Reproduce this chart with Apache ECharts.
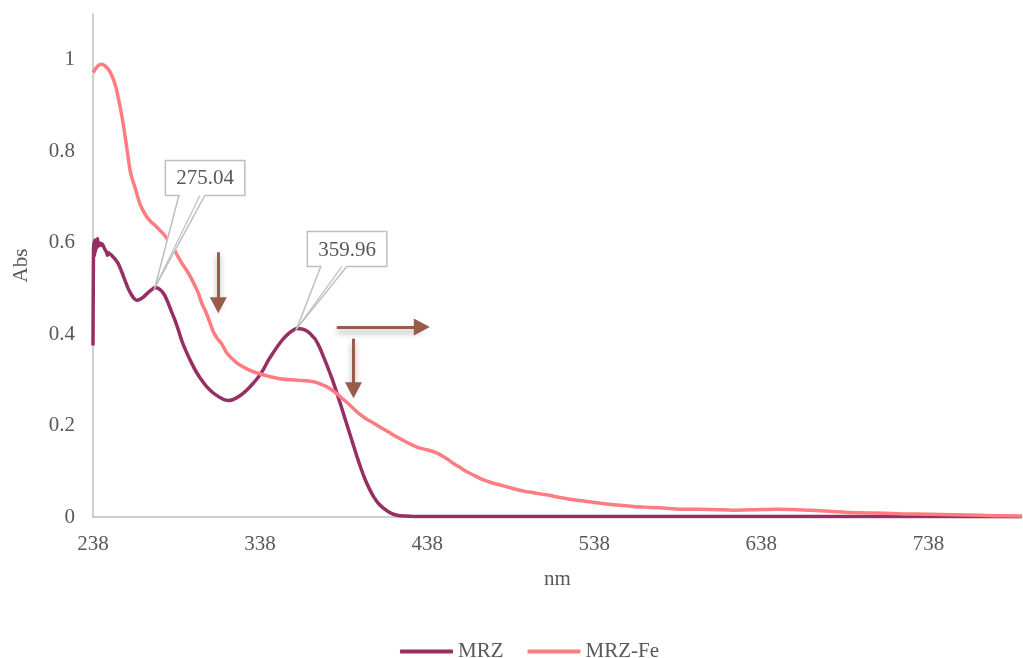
<!DOCTYPE html>
<html>
<head>
<meta charset="utf-8">
<style>
  html, body { margin: 0; padding: 0; background: #ffffff; }
  #chart { width: 1023px; height: 658px; }
</style>
<script src="https://cdn.jsdelivr.net/npm/echarts@6/dist/echarts.min.js"></script>
</head>
<body>
<div id="chart"></div>
<script>
// UV-Vis absorption spectra: wavelength (nm) vs absorbance
const seriesNames = ['MRZ', 'MRZ-Fe'];

const mrzSpectrum = [
  [238, 0.375], [238.3, 0.585], [238.6, 0.602], [238.9, 0.572], [239.2, 0.606],
  [239.5, 0.58], [239.9, 0.603], [240.3, 0.588], [240.7, 0.609], [241.2, 0.592],
  [241.8, 0.6], [242.5, 0.594], [243.2, 0.598], [244, 0.594], [245, 0.586],
  [246, 0.58], [246.6, 0.572], [247.2, 0.578], [248.2, 0.575], [249.2, 0.572],
  [251, 0.565], [253.1, 0.554], [255, 0.538], [257.2, 0.517], [259, 0.5],
  [261.2, 0.485], [262.8, 0.477], [264.2, 0.474], [266, 0.476], [268.1, 0.481],
  [270.5, 0.489], [273.1, 0.497], [275.04, 0.502], [277, 0.5], [279.1, 0.494],
  [281, 0.484], [283.1, 0.467], [285, 0.449], [287.1, 0.43], [289, 0.41],
  [291.1, 0.386], [294, 0.36], [297.1, 0.336], [300, 0.316], [303.1, 0.299],
  [306, 0.285], [309.1, 0.274], [312, 0.266], [315.1, 0.259], [317, 0.256],
  [319, 0.255], [321, 0.256], [323, 0.259], [325, 0.263], [328, 0.271],
  [331, 0.281], [334, 0.293], [337, 0.306], [340, 0.323], [343, 0.343],
  [346, 0.36], [349, 0.376], [352, 0.39], [355, 0.401], [357.5, 0.408],
  [359.96, 0.412], [363, 0.411], [366, 0.407], [368.5, 0.399], [371, 0.389],
  [373.5, 0.372], [376, 0.35], [378.5, 0.327], [381, 0.303], [383.5, 0.276],
  [386, 0.248], [388.5, 0.219], [391, 0.19], [393.5, 0.161], [396, 0.132],
  [398.5, 0.105], [401, 0.081], [403.5, 0.061], [406, 0.044], [409, 0.029],
  [412, 0.019], [416, 0.009], [420, 0.004], [425, 0.002], [430, 0.001],
  [450, 0.001], [500, 0.001], [600, 0.001], [700, 0.001], [794, 0.0005]
];

const mrzFeSpectrum = [
  [238, 0.972], [239.5, 0.98], [241.2, 0.987], [242.7, 0.99], [244.2, 0.989],
  [245.7, 0.985], [247.2, 0.979], [248.7, 0.97], [250.2, 0.957], [251.7, 0.94],
  [253.1, 0.917], [254.6, 0.89], [256.1, 0.859], [258.2, 0.808], [260.2, 0.758],
  [261.6, 0.738], [263.1, 0.721], [264.6, 0.702], [266.1, 0.685], [268, 0.67],
  [270.2, 0.656], [272.5, 0.646], [275.1, 0.638], [277.5, 0.629], [280.1, 0.619],
  [282, 0.61], [284.1, 0.598], [286.5, 0.585], [289.1, 0.568], [291.5, 0.553],
  [294.1, 0.539], [296.5, 0.524], [299.1, 0.505], [301, 0.49], [303, 0.468],
  [305.1, 0.452], [307.5, 0.43], [310, 0.405], [312.5, 0.39], [315.1, 0.378],
  [318, 0.359], [321, 0.347], [324, 0.337], [327, 0.33], [330, 0.324],
  [333, 0.319], [337, 0.314], [341, 0.31], [345, 0.306], [349, 0.303],
  [353, 0.301], [357, 0.3], [361, 0.299], [365, 0.298], [368, 0.297],
  [371, 0.295], [374, 0.291], [378, 0.285], [382, 0.275], [386, 0.263],
  [391, 0.247], [396, 0.23], [401, 0.216], [406, 0.205], [412, 0.192],
  [418, 0.179], [422, 0.171], [426, 0.163], [431.8, 0.153], [436.8, 0.148],
  [441.8, 0.143], [444.8, 0.138], [447.8, 0.132], [450.8, 0.125], [453.8, 0.117],
  [457.8, 0.108], [461.8, 0.099], [466.7, 0.09], [471.7, 0.081], [476.7, 0.075],
  [481.7, 0.07], [486.7, 0.065], [491.7, 0.06], [496.7, 0.056], [501.7, 0.053],
  [506.7, 0.05], [511.7, 0.047], [516.7, 0.043], [521.7, 0.04], [526.7, 0.037],
  [531.6, 0.035], [541.6, 0.03], [551.6, 0.026], [561.5, 0.023], [571.5, 0.021],
  [581.5, 0.019], [591.5, 0.017], [601.5, 0.017], [611.4, 0.016], [621, 0.015],
  [635, 0.016], [647, 0.017], [660, 0.016], [671, 0.014], [681, 0.012],
  [691, 0.01], [701, 0.009], [711, 0.008], [721, 0.007], [731, 0.0065],
  [746, 0.0055], [761, 0.0044], [777, 0.003], [794, 0.002]
];

// Peaks of MRZ marked with callouts (wavelength, absorbance)
const peakPoints = [[275.04, 0.502], [359.96, 0.412]];

// Arrows showing the spectral change on complexation: [start, end] in (nm, Abs)
const shiftArrows = [
  [[313, 0.579], [313, 0.463]],
  [[383.9, 0.4155], [434.8, 0.4155]],
  [[393.9, 0.39], [393.9, 0.277]]
];

const xTickLabels = [238, 338, 438, 538, 638, 738];
const yTickLabels = [0, 0.2, 0.4, 0.6, 0.8, 1];

const FONT = '"Liberation Serif", "DejaVu Serif", serif';
const FONT_SIZE = 21;
const TEXT_COLOR = '#595959';
const AXIS_COLOR = '#BFBFBF';
const ARROW_COLOR = '#975C4A';

const chart = echarts.init(document.getElementById('chart'), null, { renderer: 'canvas' });

chart.setOption({
  animation: false,
  backgroundColor: '#ffffff',
  grid: { left: 93, right: 1, top: 14, bottom: 141, containLabel: false },
  xAxis: {
    type: 'value',
    min: 238,
    max: 794,
    name: 'nm',
    nameLocation: 'middle',
    nameGap: 52,
    nameTextStyle: { fontFamily: FONT, fontSize: FONT_SIZE, color: TEXT_COLOR },
    axisLine: { show: true, lineStyle: { color: AXIS_COLOR, width: 1.5 } },
    axisTick: { show: false },
    splitLine: { show: false },
    axisLabel: {
      customValues: xTickLabels,
      fontFamily: FONT, fontSize: FONT_SIZE, color: TEXT_COLOR, margin: 17
    }
  },
  yAxis: {
    type: 'value',
    min: 0,
    max: 1.1,
    name: 'Abs',
    nameLocation: 'middle',
    nameGap: 61,
    nameRotate: 90,
    nameTextStyle: { fontFamily: FONT, fontSize: FONT_SIZE, color: TEXT_COLOR },
    axisLine: { show: true, lineStyle: { color: AXIS_COLOR, width: 1.5 } },
    axisTick: { show: false },
    splitLine: { show: false },
    axisLabel: {
      customValues: yTickLabels,
      fontFamily: FONT, fontSize: FONT_SIZE, color: TEXT_COLOR, margin: 18
    }
  },
  legend: {
    data: seriesNames,
    left: 395,
    top: 636,
    icon: 'roundRect',
    itemWidth: 53,
    itemHeight: 4,
    itemGap: 24,
    textStyle: { fontFamily: FONT, fontSize: FONT_SIZE, color: TEXT_COLOR }
  },
  series: [
    {
      name: seriesNames[0],
      type: 'line',
      data: mrzSpectrum,
      showSymbol: false,
      smooth: 0.3,
      lineStyle: { color: '#962F63', width: 3.5 },
      itemStyle: { color: '#962F63' },
      z: 2
    },
    {
      name: seriesNames[1],
      type: 'line',
      data: mrzFeSpectrum,
      showSymbol: false,
      smooth: 0.3,
      lineStyle: { color: '#FF7C80', width: 3.5 },
      itemStyle: { color: '#FF7C80' },
      z: 3,
      markLine: {
        silent: true,
        symbol: ['none', 'triangle'],
        symbolSize: [17, 16],
        label: { show: false },
        lineStyle: {
          color: ARROW_COLOR, width: 3, type: 'solid',
          shadowColor: 'rgba(0,0,0,0.35)', shadowBlur: 6, shadowOffsetY: 4
        },
        emphasis: { disabled: true },
        data: shiftArrows.map(([a, b]) => [{ coord: a }, { coord: b }])
      }
    }
  ]
});

// Callouts: bordered boxes with a wedge pointing to each MRZ peak
function buildCallouts() {
  const elements = [];
  const boxTopOffsets = [127, 97];
  peakPoints.forEach((pt, i) => {
    const [px, py] = chart.convertToPixel({ seriesIndex: 0 }, pt);
    const L = px + 10.5, R = px + 90, T = py - boxTopOffsets[i], B = T + 35;
    const a = px + 24, b = px + 50, b2 = px + 45;
    elements.push({
      type: 'polygon',
      z: 100,
      shape: { points: [[L, T], [R, T], [R, B], [b, B], [px, py], [a, B], [L, B]] },
      style: { fill: '#ffffff', stroke: '#BFBFBF', lineWidth: 1.5 }
    });
    elements.push({
      type: 'line',
      z: 101,
      shape: { x1: b2, y1: B, x2: px, y2: py },
      style: { stroke: '#BFBFBF', lineWidth: 1.2 }
    });
    elements.push({
      type: 'text',
      z: 102,
      style: {
        x: (L + R) / 2, y: (T + B) / 2 + 1,
        text: pt[0].toFixed(2),
        align: 'center', verticalAlign: 'middle',
        font: FONT_SIZE + 'px ' + FONT,
        fill: TEXT_COLOR
      }
    });
  });
  chart.setOption({ graphic: elements });
}
buildCallouts();
</script>
</body>
</html>
